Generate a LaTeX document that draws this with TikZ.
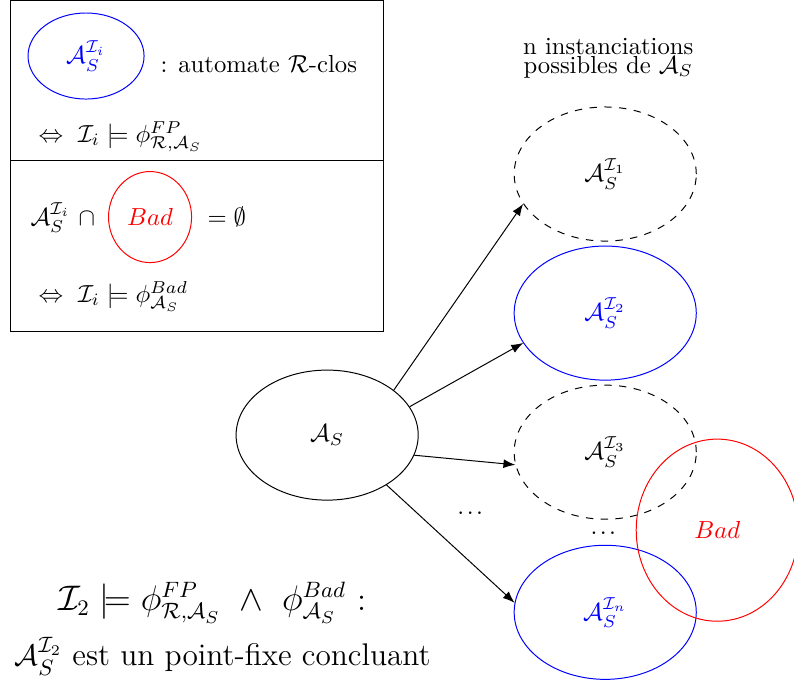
\documentclass[tikz,border=0pt]{standalone}
\usepackage{amsmath}
\usepackage{amssymb}
\usepackage{tikz}
\usetikzlibrary{arrows.meta, positioning, shapes.geometric}

\begin{document}
\begin{tikzpicture}[
        node distance=1.981cm,
        >=Latex,
        automa/.style={
            ellipse,
            draw,
            inner sep=0pt,
            minimum width=2.594cm,
            minimum height=1.91cm
        },
        possibile/.style={automa, dashed},
        chiuso/.style={automa, draw=blue, text=blue},
        cattivo/.style={
            ellipse,
            draw=red,
            text=red,
            inner sep=0pt
        },
        testo/.style={inner sep=0pt, anchor=base west}
    ]
    \useasboundingbox (0,0) rectangle (11.31,9.875);

    % legenda in alto a sinistra
    \draw (0.1425,5.159) rectangle (5.458,9.861);
    \draw (0.1425,7.595) -- (5.458,7.595);
    \node[chiuso, minimum width=1.653cm, minimum height=1.2255cm] (L1) at (1.2255,9.077) {$\mathcal{A}_S^{\mathcal{I}_i}$};
    \node[testo] (L1t) at (2.28,8.849) {: automate $\mathcal{R}$-clos};
    \node[testo] (L1e) at (0.5415,7.852) {$\Leftrightarrow\ \mathcal{I}_i \models \phi^{FP}_{\mathcal{R},\mathcal{A}_S}$};
    \node[testo] (L2a) at (0.4275,6.669) {$\mathcal{A}_S^{\mathcal{I}_i}\ \cap$};
    \node[cattivo, minimum width=1.183cm, minimum height=1.297cm] (L2) at (2.1375,6.783) {$Bad$};
    \node[testo] (L2b) at (2.95,6.669) {$=\emptyset$};
    \node[testo] (L2e) at (0.5415,5.572) {$\Leftrightarrow\ \mathcal{I}_i \models \phi^{Bad}_{\mathcal{A}_S}$};

    % automi
    \node[align=center] (titolo) at (8.664,9.05) {n instanciations\\[-4.3pt]possibles de $\mathcal{A}_S$};
    \node[automa, minimum height=1.8525cm] (AS) at (4.66,3.677) {$\mathcal{A}_S$};
    \node[possibile] (I1) at (8.621,7.396) {$\mathcal{A}_S^{\mathcal{I}_1}$};
    \node[chiuso, below of=I1] (I2) {$\mathcal{A}_S^{\mathcal{I}_2}$};
    \node[possibile, below of=I2] (I3) {$\mathcal{A}_S^{\mathcal{I}_3}$};
    \node[chiuso, below of=I3, yshift=-0.3cm] (In) {$\mathcal{A}_S^{\mathcal{I}_n}$};
    \node[cattivo, minimum width=2.309cm, minimum height=2.594cm] (Bad) at (10.217,2.323) {$Bad$};
    \node (pp1) at (6.6975,2.565) {.\kern1pt.\kern1pt.};
    \node (pp2) at (8.593,2.28) {.\kern1pt.\kern1pt.};

    \draw[->] (AS.34) -- (I1.200);
    \draw[->] (AS.19) -- (I2.200);
    \draw[->] (AS.-13) -- (I3.188);
    \draw[->] (AS.-40) -- (In.174);

    % conclusione
    \node[font=\fontsize{13.5}{16}\selectfont, anchor=base] (conc1) at (3.021,1.183) {$\mathcal{I}_2 \models \phi^{FP}_{\mathcal{R},\mathcal{A}_S}\ \wedge\ \phi^{Bad}_{\mathcal{A}_S}$ :};
    \node[font=\fontsize{12.7}{15}\selectfont, anchor=base] (conc2) at (3.171,0.399) {$\mathcal{A}_S^{\mathcal{I}_2}$ est un point-fixe concluant};

\end{tikzpicture}
\end{document}
